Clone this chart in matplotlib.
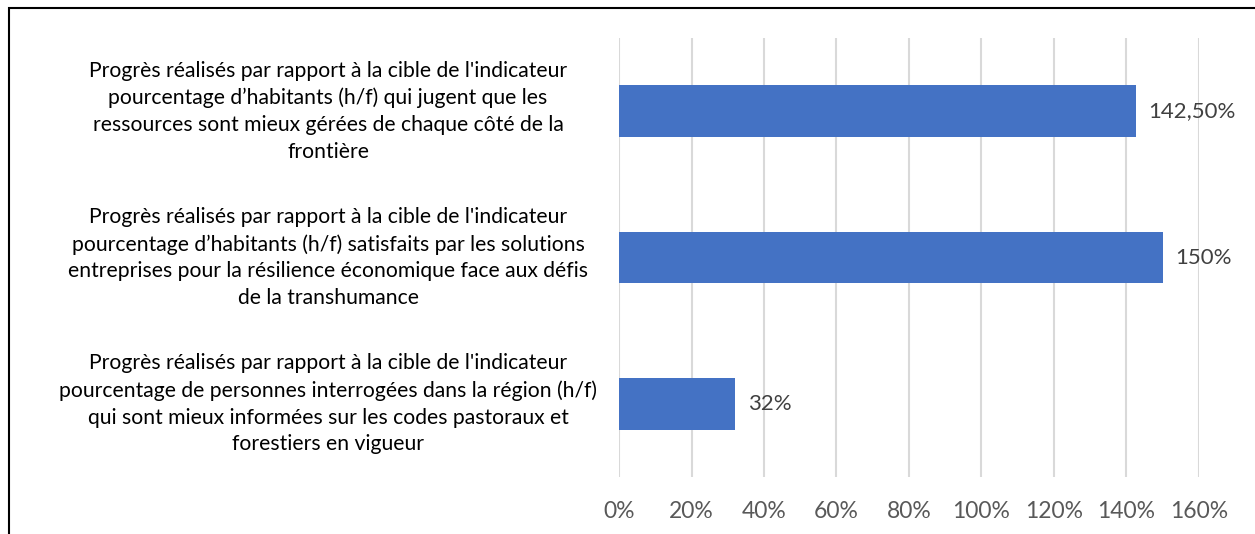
import matplotlib
matplotlib.use("Agg")
import matplotlib.pyplot as plt
from matplotlib.patches import Rectangle
from matplotlib.transforms import blended_transform_factory

# data (top to bottom as shown)
labels = [
    "Progrès réalisés par rapport à la cible de l'indicateur\n"
    "pourcentage d’habitants (h/f) qui jugent que les\n"
    "ressources sont mieux gérées de chaque côté de la\n"
    "frontière",
    "Progrès réalisés par rapport à la cible de l'indicateur\n"
    "pourcentage d’habitants (h/f) satisfaits par les solutions\n"
    "entreprises pour la résilience économique face aux défis\n"
    "de la transhumance",
    "Progrès réalisés par rapport à la cible de l'indicateur\n"
    "pourcentage de personnes interrogées dans la région (h/f)\n"
    "qui sont mieux informées sur les codes pastoraux et\n"
    "forestiers en vigueur",
]
values = [142.5, 150, 32]
value_labels = ["142,50%", "150%", "32%"]
xticks = [0, 20, 40, 60, 80, 100, 120, 140, 160]

plt.rcParams['font.family'] = ['Lato', 'DejaVu Sans']

W, H = 1255, 534
fig = plt.figure(figsize=(W / 100, H / 100), dpi=100)
ax = fig.add_axes([619 / W, 1 - 477 / H, 580 / W, (477 - 38) / H])

pos = [2, 1, 0]
ax.barh(pos, values, height=0.355, color='#4472C4', zorder=2)
ax.set_xlim(0, 160)
ax.set_ylim(-0.5, 2.5)

for p, v, t in zip(pos, values, value_labels):
    ax.text(v + 3.5, p, t, va='center', ha='left', fontsize=16,
            color='#404040')

ax.set_xticks(xticks)
ax.set_xticklabels([f"{x}%" for x in xticks], fontsize=16.5, color='#595959')
ax.tick_params(axis='x', length=0, pad=17)
ax.set_yticks([])
ax.grid(axis='x', color='#D9D9D9', linewidth=1.5, zorder=0)
for s in ax.spines.values():
    s.set_visible(False)

# category labels, centred in the left area
trans = blended_transform_factory(fig.transFigure, ax.transData)
for p, lab in zip(pos, labels):
    ax.text(328 / W, p, lab, transform=trans, ha='center', va='center',
            fontsize=15.2, linespacing=1.42, color='black')

# outer border
fig.patches.append(Rectangle((9 / W, -0.05), 1.2, 1 - 8 / H + 0.05,
                             transform=fig.transFigure, fill=False,
                             edgecolor='black', linewidth=1.5))

fig.savefig("out.png", dpi=100)
